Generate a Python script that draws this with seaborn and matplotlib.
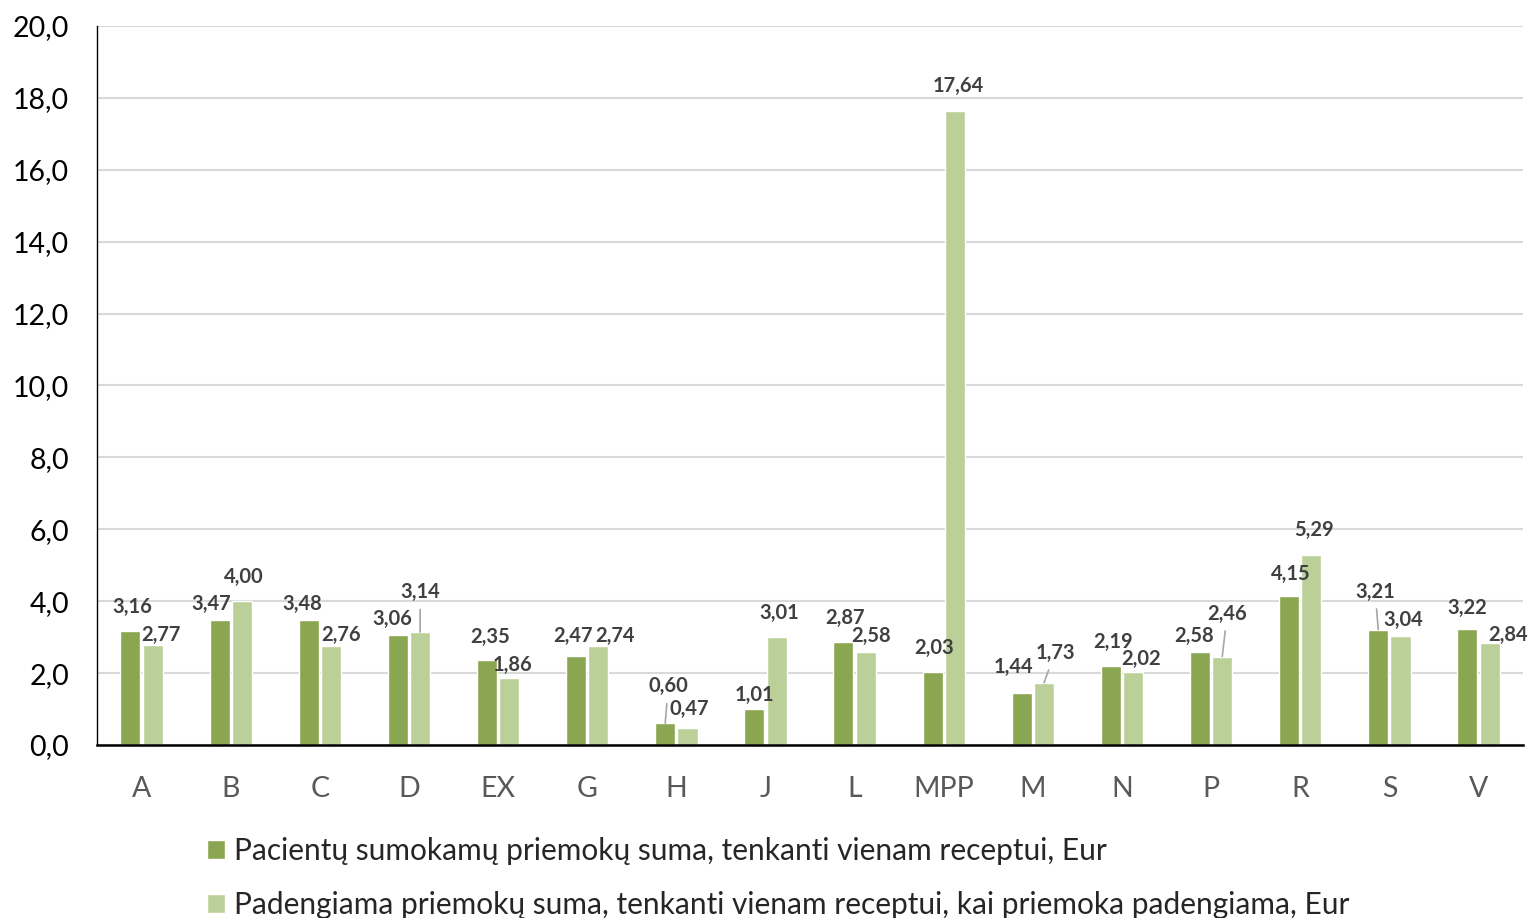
import pandas as pd
import seaborn as sns
import matplotlib.pyplot as plt
from matplotlib.ticker import FuncFormatter

# ATC groups and the two series (Eur per prescription)
groups = ['A', 'B', 'C', 'D', 'EX', 'G', 'H', 'J', 'L', 'MPP', 'M', 'N', 'P', 'R', 'S', 'V']
paid_by_patient = [3.16, 3.47, 3.48, 3.06, 2.35, 2.47, 0.60, 1.01, 2.87, 2.03, 1.44, 2.19, 2.58, 4.15, 3.21, 3.22]
covered = [2.77, 4.00, 2.76, 3.14, 1.86, 2.74, 0.47, 3.01, 2.58, 17.64, 1.73, 2.02, 2.46, 5.29, 3.04, 2.84]
series_names = ['Pacientų sumokamų priemokų suma, tenkanti vienam receptui, Eur',
                'Padengiama priemokų suma, tenkanti vienam receptui, kai priemoka padengiama, Eur']

# label placement (pixel offsets from bar top), mimicking Excel's label layout
dark_dx = [2, -8, -6, -6, 3, -3, 3, 0, 2, 2, -8, 2, -6, 2, -3, 0]
dark_dy = [24, 16, 16, 16, 24, 20, 37, 14, 24, 24, 26, 24, 16, 22, 38, 21]
light_dx = [8, 2, 10, 0, 3, 17, 2, 3, 5, 3, 11, 8, 5, 3, 3, 18]
light_dy = [10, 24, 11, 40, 13, 10, 19, 24, 16, 25, 30, 13, 43, 25, 16, 8]
dark_leader = {'H', 'S'}
light_leader = {'D', 'M', 'P'}

df = pd.DataFrame({
    'group': groups * 2,
    'value': paid_by_patient + covered,
    'series': [series_names[0]] * len(groups) + [series_names[1]] * len(groups),
})

sns.set_style('white')
plt.rcParams['font.family'] = ['Lato', 'DejaVu Sans']

fig = plt.figure(figsize=(15.33, 9.18), dpi=100)
ax = fig.add_axes([0.0633, 0.1885, 0.9302, 0.7832])

sns.barplot(data=df, x='group', y='value', hue='series', order=groups,
            palette=['#8BA650', '#BBD098'], width=0.5, gap=0.1,
            saturation=1, errorbar=None, ax=ax, legend=True)

ax.set_ylim(0, 20)
ax.set_xlim(-0.5, len(groups) - 0.5)
ax.set_yticks(range(0, 21, 2))
ax.yaxis.set_major_formatter(FuncFormatter(lambda v, p: f'{v:.1f}'.replace('.', ',')))
ax.grid(axis='y', color='#D9D9D9', linewidth=1.5)
ax.set_axisbelow(True)
ax.set_xlabel('')
ax.set_ylabel('')
ax.tick_params(axis='x', colors='#595959', labelsize=20.5, length=0, pad=22)
ax.tick_params(axis='y', labelcolor='#000000', labelsize=20.5, length=0, pad=20)
for s in ['top', 'right']:
    ax.spines[s].set_visible(False)
ax.spines['left'].set_color('#000000')
ax.spines['left'].set_linewidth(1.0)
ax.spines['bottom'].set_color('#000000')
ax.spines['bottom'].set_linewidth(1.8)

offsets = [(dark_dx, dark_dy, dark_leader), (light_dx, light_dy, light_leader)]
for cont, (dxs, dys, leaders) in zip(ax.containers, offsets):
    for i, bar in enumerate(cont):
        h = bar.get_height()
        xc = bar.get_x() + bar.get_width() / 2
        txt = f'{h:.2f}'.replace('.', ',')
        arrow = None
        if groups[i] in leaders:
            arrow = dict(arrowstyle='-', color='#A6A6A6', lw=1.2, shrinkA=3, shrinkB=0)
        ax.annotate(txt, xy=(xc, h), xytext=(dxs[i], dys[i]),
                    textcoords='offset pixels', ha='center', va='center',
                    fontsize=14.5, fontweight='bold', color='#404040',
                    arrowprops=arrow)

handles, labels = ax.get_legend_handles_labels()
ax.legend_.remove()
fig.legend(handles, labels, loc='upper left', bbox_to_anchor=(0.135, 0.088),
           frameon=False, fontsize=21.5, handlelength=0.6, handleheight=0.6,
           handletextpad=0.3, labelspacing=0.88, borderaxespad=0, borderpad=0)

plt.savefig('out.png', dpi=100)
plt.close()
